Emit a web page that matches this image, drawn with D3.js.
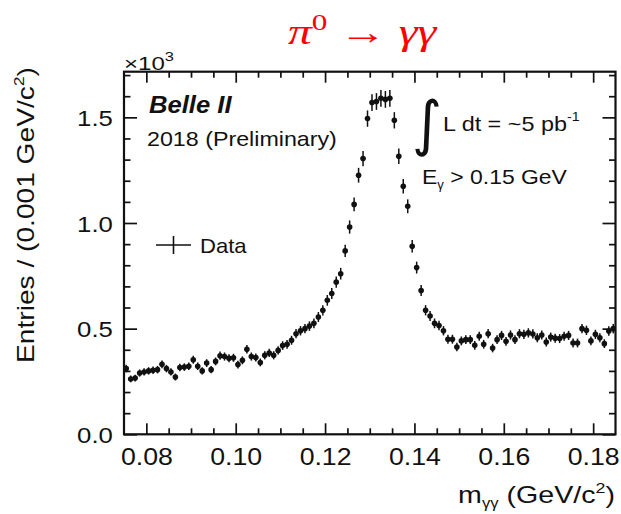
<!DOCTYPE html>
<html><head><meta charset="utf-8">
<script src="https://cdn.jsdelivr.net/npm/d3@7"></script>
<style>body{margin:0;background:#fff;} svg{display:block;}</style>
</head><body><svg id="c" width="621" height="514"></svg>
<script>
// ---- data (entries in units of 10^3 per 0.001 GeV/c^2 bin) ----
const massStart = 0.075;      // lower edge of first bin (GeV/c^2)
const binWidth = 0.001;       // bin width (GeV/c^2)
const entries = [
  0.311,0.262,0.266,0.290,0.295,0.300,0.303,0.306,0.331,0.311,
  0.295,0.271,0.316,0.318,0.322,0.353,0.322,0.300,0.337,0.306,
  0.345,0.372,0.368,0.360,0.362,0.330,0.350,0.402,0.368,0.363,
  0.340,0.374,0.385,0.374,0.397,0.420,0.426,0.445,0.476,0.490,
  0.500,0.512,0.525,0.555,0.587,0.634,0.666,0.720,0.760,0.868,
  0.981,1.088,1.226,1.305,1.494,1.570,1.575,1.590,1.585,1.590,
  1.486,1.316,1.174,1.079,0.890,0.789,0.680,0.587,0.560,0.525,
  0.515,0.490,0.450,0.450,0.413,0.442,0.448,0.448,0.421,0.464,
  0.426,0.476,0.408,0.448,0.468,0.440,0.470,0.448,0.476,0.473,
  0.480,0.475,0.457,0.470,0.437,0.460,0.455,0.453,0.464,0.468,
  0.432,0.432,0.500,0.492,0.442,0.473,0.457,0.429,0.489,0.500
];
const xTicks = [0.08,0.10,0.12,0.14,0.16,0.18];
const xMinorTicks = [0.085,0.09,0.095,0.105,0.11,0.115,0.125,0.13,0.135,0.145,0.15,0.155,0.165,0.17,0.175];
const yTicks = [0.0,0.5,1.0,1.5];
const yMinorTicks = [0.1,0.2,0.3,0.4,0.6,0.7,0.8,0.9,1.1,1.2,1.3,1.4,1.6,1.7];
const xDomain = [0.075, 0.185];
const yDomain = [0, 1.716];

// ---- setup ----
const svg = d3.select('#c');
const FONT = "'Liberation Sans', Arial, Helvetica, sans-serif";
const INK = '#111';
const x = d3.scaleLinear().domain(xDomain).range([124, 615.5]);
const y = d3.scaleLinear().domain(yDomain).range([434.3, 71.7]);

const data = entries.map((v, i) => {
  const c = massStart + binWidth * (i + 0.5);
  return {c, v, e: Math.sqrt(v * 1000) / 1000};
});

// stretch a text element horizontally (in its local frame) to a target width
function fit(textSel, targetW) {
  const w = textSel.node().getBBox().width;
  if (w > 0) textSel.attr('transform', `scale(${targetW / w},1)`);
  return textSel;
}

// ---- axes (ticks inside, mirrored on all sides) ----
function styleAxis(g) {
  g.select('.domain').remove();
  g.selectAll('.tick line').attr('stroke', INK).attr('stroke-width', 1.7);
}
const fx = d3.format('.2f'), fy = d3.format('.1f');

const gB = svg.append('g').attr('transform', `translate(0,${y.range()[0]})`)
  .call(d3.axisBottom(x).tickValues(xTicks).tickSize(-11).tickFormat(fx)).call(styleAxis);
gB.selectAll('.tick text').attr('y', 30.7).attr('dy', 0)
  .attr('font-family', FONT).attr('font-size', 23).attr('fill', INK)
  .attr('transform', 'scale(1.16,1)');
svg.append('g').attr('transform', `translate(0,${y.range()[0]})`)
  .call(d3.axisBottom(x).tickValues(xMinorTicks).tickSize(-6).tickFormat('')).call(styleAxis);
svg.append('g').attr('transform', `translate(0,${y.range()[1]})`)
  .call(d3.axisTop(x).tickValues(xTicks).tickSize(-11).tickFormat('')).call(styleAxis);
svg.append('g').attr('transform', `translate(0,${y.range()[1]})`)
  .call(d3.axisTop(x).tickValues(xMinorTicks).tickSize(-6).tickFormat('')).call(styleAxis);

const gL = svg.append('g').attr('transform', `translate(${x.range()[0]},0)`)
  .call(d3.axisLeft(y).tickValues(yTicks).tickSize(-13).tickFormat(fy)).call(styleAxis);
gL.selectAll('.tick text').attr('x', -9.5).attr('y', 8).attr('dy', 0)
  .attr('font-family', FONT).attr('font-size', 22).attr('fill', INK)
  .attr('transform', 'scale(1.17,1)');
svg.append('g').attr('transform', `translate(${x.range()[0]},0)`)
  .call(d3.axisLeft(y).tickValues(yMinorTicks).tickSize(-6.5).tickFormat('')).call(styleAxis);
svg.append('g').attr('transform', `translate(${x.range()[1]},0)`)
  .call(d3.axisRight(y).tickValues(yTicks).tickSize(-13).tickFormat('')).call(styleAxis);
svg.append('g').attr('transform', `translate(${x.range()[1]},0)`)
  .call(d3.axisRight(y).tickValues(yMinorTicks).tickSize(-6.5).tickFormat('')).call(styleAxis);

// frame
svg.append('rect')
  .attr('x', x.range()[0]).attr('y', y.range()[1])
  .attr('width', x.range()[1] - x.range()[0]).attr('height', y.range()[0] - y.range()[1])
  .attr('fill', 'none').attr('stroke', INK).attr('stroke-width', 2.2);

// ---- data points with error bars ----
const pts = svg.append('g').attr('class', 'data');
pts.selectAll('line.ey').data(data).join('line').attr('class', 'ey')
  .attr('x1', d => x(d.c)).attr('x2', d => x(d.c))
  .attr('y1', d => y(d.v - d.e)).attr('y2', d => y(d.v + d.e))
  .attr('stroke', INK).attr('stroke-width', 1.5);
pts.selectAll('line.ex').data(data).join('line').attr('class', 'ex')
  .attr('x1', d => x(d.c - binWidth / 2)).attr('x2', d => x(d.c + binWidth / 2))
  .attr('y1', d => y(d.v)).attr('y2', d => y(d.v))
  .attr('stroke', INK).attr('stroke-width', 1.5);
pts.selectAll('circle').data(data).join('circle')
  .attr('cx', d => x(d.c)).attr('cy', d => y(d.v)).attr('r', 2.8).attr('fill', INK);

// ---- texts ----
function label(px, py, anchor, size, targetW, build, extra) {
  const g = svg.append('g').attr('transform', `translate(${px},${py})` + (extra || ''));
  const t = g.append('text').attr('text-anchor', anchor).attr('font-family', FONT)
    .attr('font-size', size).attr('fill', INK);
  build(t);
  if (targetW) fit(t, targetW);
  return t;
}

// title
label(288, 44, 'start', 35, 150, t => {
  t.attr('fill', '#ff0000').attr('font-family', "'Liberation Serif','DejaVu Serif',serif");
  t.append('tspan').attr('font-style', 'italic').text('π');
  t.append('tspan').attr('font-size', 23).attr('dy', -14).text('0');
  t.append('tspan').attr('dy', 14).text(' → ');
  t.append('tspan').attr('font-style', 'italic').text('γγ');
});

// x10^3
label(124, 70, 'start', 19, 50, t => {
  t.append('tspan').text('×10');
  t.append('tspan').attr('font-size', 13).attr('dy', -9).text('3');
});

// x axis title
label(615, 503, 'end', 24, 157, t => {
  t.append('tspan').text('m');
  t.append('tspan').attr('font-size', 14).attr('dy', 5).text('γγ');
  t.append('tspan').attr('dy', -5).text(' (GeV/c');
  t.append('tspan').attr('font-size', 15).attr('dy', -10).text('2');
  t.append('tspan').attr('dy', 10).text(')');
});

// y axis title
label(33.5, 215, 'middle', 24, 296, t => {
  t.append('tspan').text('Entries / (0.001 GeV/c');
  t.append('tspan').attr('font-size', 15).attr('dy', -10).text('2');
  t.append('tspan').attr('dy', 10).text(')');
}, ' rotate(-90)');

// experiment labels
label(149, 113, 'start', 24, 84, t => {
  t.attr('font-weight', 'bold').attr('font-style', 'italic').text('Belle II');
});
label(147, 146, 'start', 21, 190, t => t.text('2018 (Preliminary)'));

// luminosity
label(412, 144, 'start', 60, 30, t => {
  t.attr('font-family', "'DejaVu Sans', sans-serif").text('∫');
});
label(443, 131, 'start', 20, 124, t => t.text('L dt = ~5 pb'));
label(567, 121, 'start', 12, 13, t => t.text('-1'));

// photon energy cut
label(422, 184, 'start', 21, 145, t => {
  t.append('tspan').text('E');
  t.append('tspan').attr('font-size', 12).attr('dy', 5).text('γ');
  t.append('tspan').attr('dy', -5).text(' > 0.15 GeV');
});

// legend
const lg = svg.append('g');
lg.append('line').attr('x1', 156).attr('x2', 191).attr('y1', 245).attr('y2', 245)
  .attr('stroke', INK).attr('stroke-width', 1.6);
lg.append('line').attr('x1', 173.5).attr('x2', 173.5).attr('y1', 236).attr('y2', 254)
  .attr('stroke', INK).attr('stroke-width', 1.6);
label(200, 253, 'start', 21, 47, t => t.text('Data'));
</script>
</body></html>
